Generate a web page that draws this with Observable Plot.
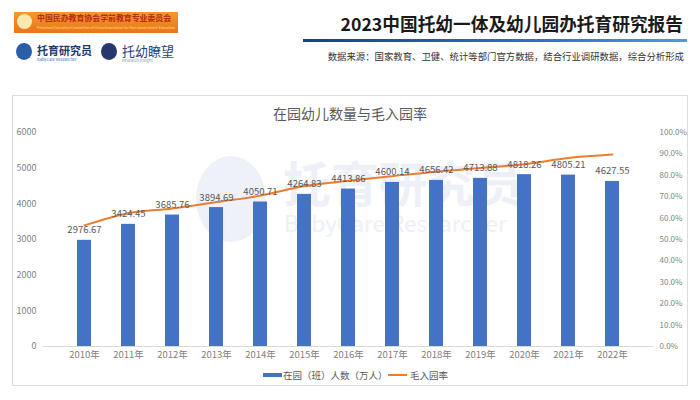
<!DOCTYPE html>
<html><head><meta charset="utf-8">
<script src="https://cdn.jsdelivr.net/npm/d3@7"></script>
<script src="https://cdn.jsdelivr.net/npm/@observablehq/plot@0.6"></script>
<style>
body{margin:0;background:#fff;font-family:"Noto Sans CJK SC","Noto Sans",sans-serif;}
#page{position:relative;width:700px;height:400px;overflow:hidden;background:#fff;}
.abs{position:absolute;white-space:nowrap;}
</style></head>
<body><div id="page">
  <div class="abs" style="left:14px;top:12px;width:164px;height:21px;background:linear-gradient(#f39a2c,#e9741c);"></div>
  <div class="abs" style="left:17px;top:14px;width:15px;height:15px;border-radius:50%;background:#fbe7b0;"></div>
  <div class="abs" style="left:37px;top:12px;font-size:7.9px;font-weight:bold;color:#b8281c;">中国民办教育协会学前教育专业委员会</div>
  <div class="abs" style="left:37px;top:25px;font-size:3.5px;color:#ffe07a;">Preschool Education Committee of China Association for Non-Government Education</div>
  <div class="abs" style="left:16px;top:43px;width:16px;height:17px;border-radius:50%;background:#2a5ea8;"></div>
  <div class="abs" style="left:37px;top:42px;font-size:11px;font-weight:bold;color:#1d3a6e;">托育研究员</div>
  <div class="abs" style="left:37px;top:56px;font-size:4px;color:#3a72c4;">BabyCare Researcher</div>
  <div class="abs" style="left:101px;top:43px;width:16px;height:17px;border-radius:50%;background:#26376e;"></div>
  <div class="abs" style="left:122px;top:41px;font-size:13px;color:#2a3f7a;">托幼瞭望</div>
  <div class="abs" style="left:122px;top:57px;font-size:4px;color:#8a9ab8;">Research Insight</div>
  <div class="abs" id="title" style="right:17px;top:10px;font-size:17.7px;font-weight:bold;color:#1a1a1a;">2023中国托幼一体及幼儿园办托育研究报告</div>
  <div class="abs" style="left:303px;top:39px;width:384px;height:3px;background:linear-gradient(90deg,#1c3d8c,#2a6fcf 60%,#4a9ae6);"></div>
  <div class="abs" style="right:16px;top:49px;font-size:9.4px;color:#333;">数据来源：国家教育、卫健、统计等部门官方数据，结合行业调研数据，综合分析形成</div>
  <div class="abs" style="left:12px;top:95px;width:676px;height:291px;border:1px solid #dcdcdc;box-sizing:border-box;"></div>
  <div class="abs" style="left:196px;top:156px;width:70px;height:86px;border-radius:50%;background:#eef2f8;"></div>
  <div class="abs" style="left:283px;top:146px;font-size:48px;font-weight:bold;color:#edf1f7;">托育研究员</div>
  <div class="abs" style="left:284px;top:206px;font-size:22.5px;color:#edf1f7;">BabyCare Researcher</div>
  <div class="abs" style="left:0;width:700px;top:103px;text-align:center;font-size:14px;color:#595959;">在园幼儿数量与毛入园率</div>
  <div id="chart" class="abs" style="left:0;top:0;"></div>
  <div class="abs" style="left:263px;top:373px;width:19px;height:4px;background:#4472C4;"></div>
  <div class="abs" style="left:283px;top:368px;font-size:9.5px;color:#595959;">在园（班）人数（万人）</div>
  <div class="abs" style="left:388px;top:374px;width:19px;height:2px;background:#ED7D31;"></div>
  <div class="abs" style="left:410px;top:368px;font-size:9.5px;color:#595959;">毛入园率</div>
</div>
<script>
const years = ["2010年","2011年","2012年","2013年","2014年","2015年","2016年","2017年","2018年","2019年","2020年","2021年","2022年"];
const counts = [2976.67,3424.45,3685.76,3894.69,4050.71,4264.83,4413.86,4600.14,4656.42,4713.88,4818.26,4805.21,4627.55];
const rates = [56.6,62.3,64.5,67.5,70.5,75.0,77.4,79.6,81.7,83.4,85.2,88.1,89.7];
const leftTicks = [0,1000,2000,3000,4000,5000,6000];
const rightTicks = [0,10,20,30,40,50,60,70,80,90,100];

const data = years.map((y,i)=>({year:y,count:counts[i],rate:rates[i]}));

const chart = Plot.plot({
  width:700, height:400,
  marginLeft:43, marginRight:47, marginTop:132, marginBottom:54,
  style:{background:"transparent", fontFamily:'"Noto Sans CJK SC","Noto Sans",sans-serif', fontSize:"9px", color:"#7f7f7f"},
  x:{type:"band", domain:years, padding:0.68, label:null},
  y:{domain:[0,6000], label:null},
  marks:[
    Plot.axisY({ticks:leftTicks, tickSize:0, tickPadding:7, tickFormat:d=>String(d), label:null}),
    Plot.axisY({anchor:"right", ticks:rightTicks.map(t=>t*60), tickSize:0, tickPadding:6, tickFormat:d=>(d/60).toFixed(1)+"%", label:null, fontSize:8}),
    Plot.axisX({tickSize:0, tickPadding:5, label:null, fontSize:9.5}),
    Plot.ruleY([0], {stroke:"#d9d9d9"}),
    Plot.barY(data, {x:"year", y:"count", fill:"#4472C4"}),
    Plot.line(data, {x:"year", y:d=>d.rate*60, stroke:"#ED7D31", strokeWidth:2, curve:"monotone-x"}),
    Plot.text(data, {x:"year", y:"count", text:d=>d.count.toFixed(2), dy:-10, fill:"#595959", fontSize:9.5})
  ]
});
document.getElementById("chart").appendChild(chart);
</script>
</body></html>
